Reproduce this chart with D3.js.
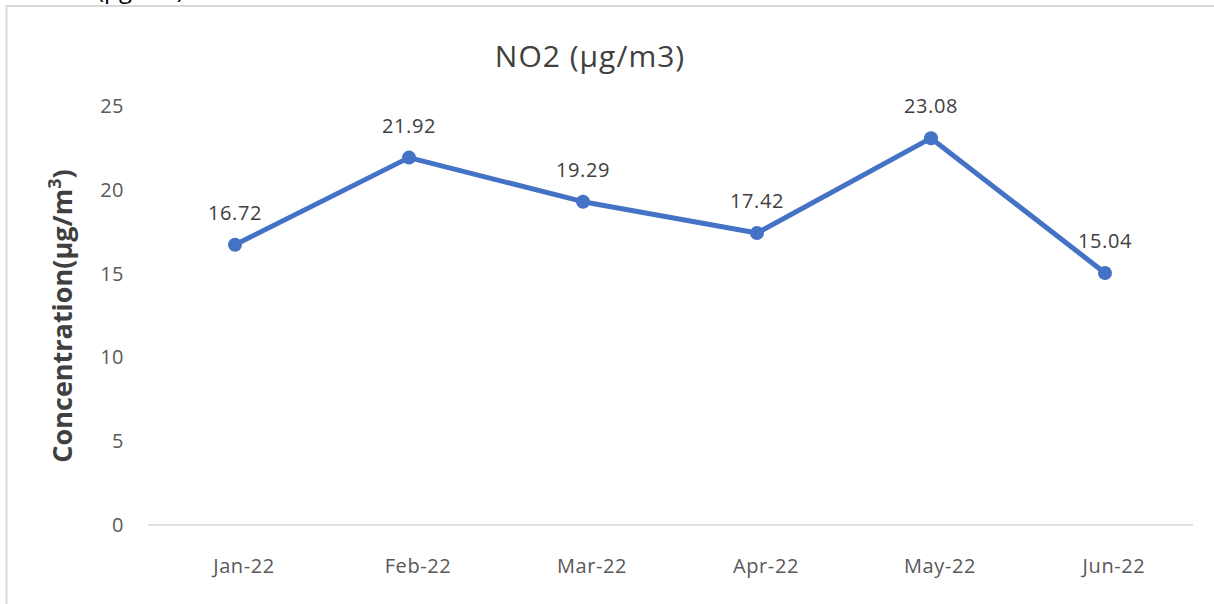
<!DOCTYPE html>
<html><head><meta charset="utf-8">
<script src="https://cdn.jsdelivr.net/npm/d3@7"></script>
<style>body{margin:0;background:#fff;}svg{display:block;font-family:"Open Sans",sans-serif;}</style>
</head><body>
<svg id="c" width="1214" height="604"></svg>
<script>
const categories = ["Jan-22","Feb-22","Mar-22","Apr-22","May-22","Jun-22"];
const values = [16.72, 21.92, 19.29, 17.42, 23.08, 15.04];
const yTicks = [0,5,10,15,20,25];
const FONT = "'Open Sans',sans-serif";

const svg = d3.select("#c");
svg.append("rect").attr("x",6.5).attr("y",6).attr("width",1300).attr("height",700)
  .attr("fill","none").attr("stroke","#d9d9d9").attr("stroke-width",2);
svg.append("text").attr("x",97).attr("y",-2).attr("font-size",24).attr("fill","#000").text("(µg/m3)");

const x = d3.scaleBand().domain(categories).range([148,1192]);
const y = d3.scaleLinear().domain([0,25]).range([525,106]);

svg.append("line").attr("x1",148).attr("x2",1193).attr("y1",y(0)).attr("y2",y(0))
  .attr("stroke","#d9d9d9").attr("stroke-width",1.5);

const yAxis = svg.append("g").attr("transform","translate(124,0)")
  .call(d3.axisLeft(y).tickValues(yTicks).tickSize(0).tickPadding(0));
yAxis.select(".domain").remove();
yAxis.selectAll("text").attr("font-size",20).attr("letter-spacing",0.5).attr("fill","#595959").attr("font-family",FONT);

const xAxis = svg.append("g").attr("transform","translate(0,558)")
  .call(d3.axisBottom(x).tickSize(0).tickPadding(0));
xAxis.select(".domain").remove();
xAxis.selectAll("text").attr("font-size",20).attr("letter-spacing",0.6).attr("fill","#595959")
  .attr("dy","0.75em").attr("dx",9).attr("font-family",FONT);

const cx = d => x(d) + x.bandwidth()/2;
const line = d3.line().x((d,i)=>cx(categories[i])).y(d=>y(d));
svg.append("path").datum(values).attr("d",line).attr("fill","none")
  .attr("stroke","#4472C4").attr("stroke-width",5).attr("stroke-linejoin","round");
svg.selectAll("circle.pt").data(values).join("circle").attr("class","pt")
  .attr("cx",(d,i)=>cx(categories[i])).attr("cy",d=>y(d)).attr("r",7).attr("fill","#4472C4");
svg.selectAll("text.lbl").data(values).join("text").attr("class","lbl")
  .attr("x",(d,i)=>cx(categories[i])).attr("y",d=>y(d)-25)
  .attr("text-anchor","middle").attr("font-size",20).attr("letter-spacing",0.6).attr("fill","#404040").text(d=>d.toFixed(2));

svg.append("text").attr("x",590).attr("y",67).attr("text-anchor","middle")
  .attr("font-size",30).attr("letter-spacing",1).attr("fill","#404040").text("NO2 (µg/m3)");

const yl = svg.append("text").attr("transform","translate(72,316) rotate(-90)")
  .attr("text-anchor","middle").attr("font-size",27).attr("font-weight","bold").attr("fill","#404040");
yl.append("tspan").text("Concentration(µg/m");
yl.append("tspan").attr("dy",-11).attr("font-size",18).text("3");
yl.append("tspan").attr("dy",11).text(")");
</script>
</body></html>
